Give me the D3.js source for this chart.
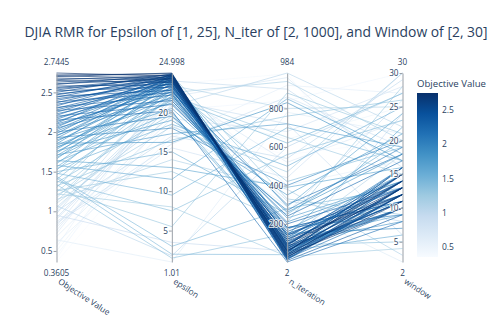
<!DOCTYPE html>
<html>
<head>
<meta charset="utf-8">
<script src="https://cdn.jsdelivr.net/npm/d3@7"></script>
<style>
  body { margin: 0; background: #fff; }
  text { font-family: "Open Sans", verdana, arial, sans-serif; fill: #2a3f5f; }
</style>
</head>
<body>
<div id="chart"></div>
<script>
// one entry per trial, same index across arrays
let objective = [
  2.7445, 2.72, 2.71, 2.70, 2.68, 2.66, 2.65, 2.63, 2.61, 2.60,
  2.58, 2.56, 2.55, 2.53, 2.52, 2.50, 2.48, 2.47, 2.45, 2.44,
  2.42, 2.40, 2.38, 2.37, 2.35, 2.33, 2.31, 2.30, 2.28, 2.27,
  2.25, 2.23, 2.21, 2.20, 2.18, 2.16, 2.15, 2.13, 2.11, 2.10,
  2.08, 2.06, 2.05, 2.03, 2.01, 2.00, 1.98, 1.96, 1.95, 1.93,
  1.92, 1.90, 1.88, 1.86, 1.85, 1.83, 1.81, 1.80, 1.78, 1.76,
  1.75, 1.73, 1.71, 1.70, 1.68, 1.66, 1.64, 1.62, 1.60, 1.58,
  1.56, 1.54, 1.52, 1.50, 1.48, 1.46, 1.44, 1.42, 1.40, 1.38,
  1.36, 1.34, 1.32, 1.30, 1.28, 1.26, 1.24, 1.22, 1.20, 1.17,
  1.15, 1.12, 1.10, 1.07, 1.05, 1.02, 1.00, 0.97, 0.95, 0.92,
  0.90, 0.87, 0.85, 0.82, 0.80, 0.76, 0.72, 0.68, 0.64, 0.60,
  0.55, 0.50, 0.45, 0.40, 0.3605
];
let epsilon = [
  24.6, 24.9, 24.3, 24.998, 24.1, 24.7, 23.8, 24.5, 24.2, 24.8,
  23.5, 24.4, 24.0, 24.6, 23.2, 24.9, 23.9, 24.3, 22.8, 24.7,
  23.6, 24.1, 22.5, 24.5, 23.3, 24.8, 22.2, 24.0, 23.7, 21.5,
  24.4, 22.9, 24.6, 21.0, 23.4, 24.2, 20.2, 23.8, 24.9, 22.6,
  23.1, 24.5, 21.8, 24.0, 23.5, 19.5, 24.7, 22.3, 23.9, 18.0,
  24.3, 21.2, 23.6, 16.2, 24.8, 22.0, 20.5, 23.2, 24.1, 19.0,
  22.7, 24.5, 17.3, 23.0, 21.5, 24.6, 13.0, 20.0, 23.8, 11.5,
  22.4, 18.5, 24.2, 15.0, 9.5, 21.8, 3.0, 2.0, 23.0, 7.5,
  19.8, 1.5, 16.5, 24.7, 5.5, 12.5, 22.1, 8.0, 18.2, 22.5,
  14.0, 23.4, 19.5, 1.8, 20.8, 21.8, 17.0, 24.0, 3.5, 21.5,
  21.0, 16.0, 15.5, 23.0, 19.2, 22.0, 22.8, 18.5, 1.01, 16.8,
  24.2, 20.5, 20.3, 23.6, 18.0
];
let nIteration = [
  60, 45, 80, 30, 95, 55, 120, 40, 70, 25,
  110, 65, 90, 35, 140, 20, 85, 50, 160, 75,
  100, 15, 130, 60, 180, 40, 150, 10, 85, 200,
  55, 120, 30, 240, 70, 95, 2, 140, 20, 300,
  80, 45, 180, 110, 60, 270, 35, 150, 90, 400,
  25, 210, 75, 830, 50, 130, 260, 100, 15, 350,
  170, 65, 720, 40, 230, 140, 390, 110, 290, 850,
  60, 500, 180, 250, 700, 620, 280, 40, 420, 560,
  90, 150, 760, 330, 880, 210, 650, 30, 470, 940,
  380, 800, 120, 600, 984, 320, 540, 900, 60, 720,
  260, 860, 440, 180, 680, 960, 520, 290, 780, 920,
  400, 640, 840, 980, 560
];
let windowSize = [
  13, 12, 14, 11, 13, 15, 12, 10, 14, 13,
  12, 11, 15, 13, 14, 12, 10, 16, 13, 11,
  14, 12, 15, 13, 11, 14, 12, 9, 16, 13,
  10, 14, 12, 17, 11, 15, 8, 13, 10, 18,
  12, 14, 9, 16, 11, 19, 13, 7, 15, 20,
  12, 14, 10, 17, 16, 11, 18, 8, 13, 21,
  15, 10, 19, 12, 14, 22, 16, 9, 24, 18,
  6, 25, 11, 20, 17, 27, 13, 15, 19, 23,
  5, 12, 26, 9, 21, 28, 15, 4, 30, 20,
  3, 25, 18, 27, 22, 8, 29, 16, 24, 6,
  26, 19, 30, 11, 28, 14, 23, 2, 21, 27,
  17, 25, 30, 9, 20
];

let dimNames = ["Objective Value", "epsilon", "n_iteration", "window"];
let dimTicks = [
  [0.5, 1, 1.5, 2, 2.5],
  [5, 10, 15, 20],
  [200, 400, 600, 800],
  [5, 10, 15, 20, 25, 30]
];
let colorTicks = [0.5, 1, 1.5, 2, 2.5];
let titleText = "DJIA RMR for Epsilon of [1, 25], N_iter of [2, 1000], and Window of [2, 30]";

let width = 500;
let height = 321;
let plotTop = 73;
let plotBottom = 262;

let columns = [objective, epsilon, nIteration, windowSize];
let rows = objective.map((d, i) => columns.map(c => c[i]));

let x = d3.scalePoint().domain(d3.range(4)).range([56.5, 402.5]);

let y = columns.map(col =>
  d3.scaleLinear().domain(d3.extent(col)).range([plotBottom, plotTop])
);

// plotly "Blues"
let blues = [
  "rgb(247,251,255)", "rgb(222,235,247)", "rgb(198,219,239)", "rgb(158,202,225)",
  "rgb(107,174,214)", "rgb(66,146,198)", "rgb(33,113,181)", "rgb(8,81,156)", "rgb(8,48,107)"
];
let cExt = d3.extent(objective);
let color = d3
  .scaleLinear()
  .domain(d3.range(9).map(i => cExt[0] + (i / 8) * (cExt[1] - cExt[0])))
  .range(blues)
  .interpolate(d3.interpolateRgb);

let svg = d3
  .select("#chart")
  .append("svg")
  .attr("width", width)
  .attr("height", height);

svg
  .append("text")
  .attr("x", 256)
  .attr("y", 37)
  .attr("text-anchor", "middle")
  .style("font-size", "13.9px")
  .text(titleText);

/* lines, low values first so dark ones sit on top */
let line = d3
  .line()
  .x((d, i) => x(i))
  .y((d, i) => y[i](d));

let sorted = rows.slice().sort((a, b) => a[0] - b[0]);

svg
  .append("g")
  .selectAll("path")
  .data(sorted)
  .enter()
  .append("path")
  .attr("d", d => line(d))
  .attr("fill", "none")
  .attr("stroke", d => color(d[0]))
  .attr("stroke-width", 0.85)
  .attr("stroke-opacity", 0.75);

/* axes */
let axes = svg
  .selectAll(".dim")
  .data(d3.range(4))
  .enter()
  .append("g")
  .attr("class", "dim")
  .attr("transform", i => `translate(${x(i)},0)`);

axes.each(function(i) {
  let g = d3.select(this);
  g.call(
    d3.axisLeft(y[i])
      .tickValues(dimTicks[i])
      .tickSize(3)
      .tickSizeOuter(0)
      .tickFormat(d3.format("~g"))
  );
  g.select(".domain").attr("stroke", "#9aa0a8").attr("stroke-width", 1);
  g.selectAll(".tick line").attr("stroke", "#9aa0a8");
  g.selectAll(".tick text")
    .attr("x", -4)
    .style("font-size", "8.2px")
    .style("font-family", "'Open Sans', verdana, arial, sans-serif")
    .attr("fill", "#2a3f5f")
    .attr("stroke", "#fff")
    .attr("stroke-width", 2)
    .attr("stroke-opacity", 0.8)
    .attr("paint-order", "stroke");

  let ext = d3.extent(columns[i]);
  g.append("text")
    .attr("y", 65)
    .attr("text-anchor", "middle")
    .style("font-size", "8.2px")
    .text(ext[1]);
  g.append("text")
    .attr("y", 276)
    .attr("text-anchor", "middle")
    .style("font-size", "8.2px")
    .text(ext[0]);
  g.append("text")
    .attr("text-anchor", "start")
    .attr("transform", "translate(1,283) rotate(33)")
    .style("font-size", "8.3px")
    .text(dimNames[i]);
});

/* colorbar */
let cbX = 417;
let cbTop = 93;
let cbBottom = 257;

let defs = svg.append("defs");
let grad = defs
  .append("linearGradient")
  .attr("id", "cbgrad")
  .attr("x1", 0)
  .attr("y1", 1)
  .attr("x2", 0)
  .attr("y2", 0);
grad
  .selectAll("stop")
  .data(blues)
  .enter()
  .append("stop")
  .attr("offset", (d, i) => i / 8)
  .attr("stop-color", d => d);

svg
  .append("rect")
  .attr("x", cbX)
  .attr("y", cbTop)
  .attr("width", 21)
  .attr("height", cbBottom - cbTop)
  .attr("fill", "url(#cbgrad)");

let cbScale = d3.scaleLinear().domain(cExt).range([cbBottom, cbTop]);

svg
  .append("g")
  .selectAll("text")
  .data(colorTicks)
  .enter()
  .append("text")
  .attr("x", cbX + 25)
  .attr("y", d => cbScale(d) + 3)
  .style("font-size", "8.5px")
  .text(d => d);

svg
  .append("text")
  .attr("x", cbX)
  .attr("y", 87)
  .style("font-size", "9.6px")
  .text("Objective Value");
</script>
</body>
</html>
